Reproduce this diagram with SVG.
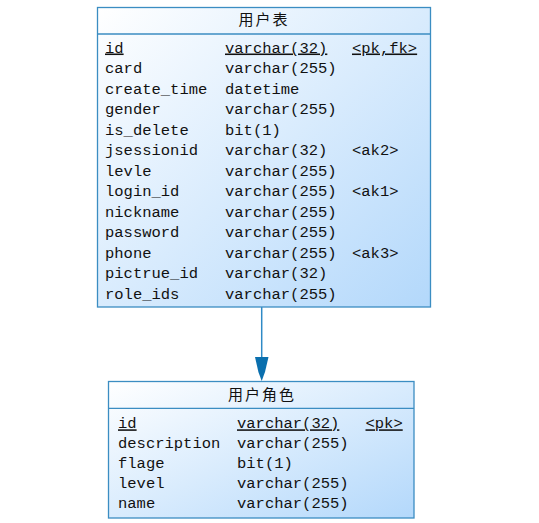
<svg xmlns="http://www.w3.org/2000/svg" width="539" height="523" viewBox="0 0 539 523">
<style>
.box{stroke:#3b8dc2;stroke-width:1.3}
.sep{stroke:#3b8dc2;stroke-width:1.3}
.t{font-family:"Liberation Mono","DejaVu Sans Mono",monospace;font-size:15.5px;fill:#111}
.u{text-decoration:underline}
.h{font-family:"Noto Sans CJK SC","Liberation Sans",sans-serif;font-size:15px;fill:#111;text-anchor:middle;letter-spacing:2px}
.c{stroke:#2f8ac6;stroke-width:1.5;fill:none}
.ah{fill:#0a6fae}
</style>
<defs>
<linearGradient id="g" x1="0" y1="0" x2="1" y2="1">
<stop offset="0" stop-color="#ffffff"/>
<stop offset="1" stop-color="#b3d8fb"/>
</linearGradient>
</defs>
<g id="connectors">
<path class="c" d="M261.7,307 L261.7,372"/>
<path class="ah" d="M255,357 L268.5,357 L265,372 L261.7,381 L258.4,372 Z"/>
</g>
<g id="user">
<rect class="box" x="97.5" y="7.5" width="333" height="299.5" fill="url(#g)"/>
<line class="sep" x1="97.5" y1="34" x2="430.5" y2="34"/>
<text class="h" x="264" y="25">用户表</text>
<g class="t">
<text x="105" y="52.5" class="u">id</text><text x="225" y="52.5" class="u">varchar(32)</text><text x="352" y="52.5" class="u">&lt;pk,fk&gt;</text>
<text x="105" y="73">card</text><text x="225" y="73">varchar(255)</text>
<text x="105" y="93.5">create_time</text><text x="225" y="93.5">datetime</text>
<text x="105" y="114">gender</text><text x="225" y="114">varchar(255)</text>
<text x="105" y="134.5">is_delete</text><text x="225" y="134.5">bit(1)</text>
<text x="105" y="155">jsessionid</text><text x="225" y="155">varchar(32)</text><text x="352" y="155">&lt;ak2&gt;</text>
<text x="105" y="175.5">levle</text><text x="225" y="175.5">varchar(255)</text>
<text x="105" y="196">login_id</text><text x="225" y="196">varchar(255)</text><text x="352" y="196">&lt;ak1&gt;</text>
<text x="105" y="216.5">nickname</text><text x="225" y="216.5">varchar(255)</text>
<text x="105" y="237">password</text><text x="225" y="237">varchar(255)</text>
<text x="105" y="257.5">phone</text><text x="225" y="257.5">varchar(255)</text><text x="352" y="257.5">&lt;ak3&gt;</text>
<text x="105" y="278">pictrue_id</text><text x="225" y="278">varchar(32)</text>
<text x="105" y="298.5">role_ids</text><text x="225" y="298.5">varchar(255)</text>
</g>
</g>
<g id="user_role">
<rect class="box" x="108.5" y="381.5" width="305.5" height="136.5" fill="url(#g)"/>
<line class="sep" x1="108.5" y1="408.3" x2="414" y2="408.3"/>
<text class="h" x="262" y="400">用户角色</text>
<g class="t">
<text x="118" y="428.3" class="u">id</text><text x="237" y="428.3" class="u">varchar(32)</text><text x="365.5" y="428.3" class="u">&lt;pk&gt;</text>
<text x="118" y="448.3">description</text><text x="237" y="448.3">varchar(255)</text>
<text x="118" y="468.3">flage</text><text x="237" y="468.3">bit(1)</text>
<text x="118" y="488.3">level</text><text x="237" y="488.3">varchar(255)</text>
<text x="118" y="508.3">name</text><text x="237" y="508.3">varchar(255)</text>
</g>
</g>
</svg>
